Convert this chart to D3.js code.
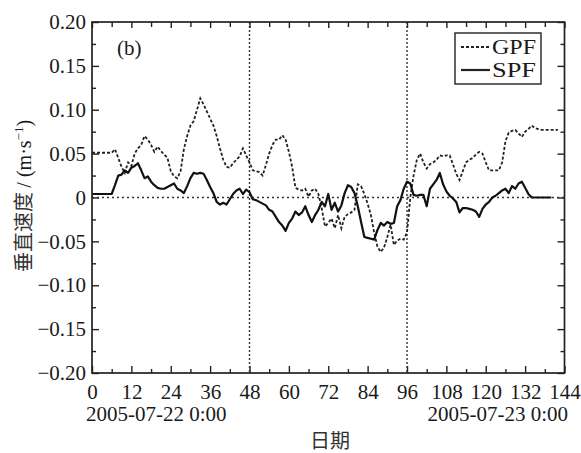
<!DOCTYPE html>
<html>
<head>
<meta charset="utf-8">
<script src="https://cdn.jsdelivr.net/npm/d3@7"></script>
<style>
  body { margin: 0; background: #fff; }
  svg text { font-family: "Liberation Serif", "Times New Roman", serif; fill: #1a1a1a; }
  .cjk { font-family: "Noto Sans CJK SC", sans-serif !important; fill: #333 !important; }
</style>
</head>
<body>
<svg id="chart" width="581" height="453"></svg>
<script>
// hours since 2005-07-22 0:00
var gpfHours = [0,6,7,8,9,10,11,12,13,14,15,16,17,18,19,20,21,22,23,24,25,26,27,28,29,30,31,32,33,34,35,36,37,38,39,40,41,42,43,44,45,46,47,48,49,50,51,52,53,54,55,56,57,58,59,60,61,62,63,64,65,66,67,68,69,70,71,72,73,74,75,76,77,78,79,80,81,82,83,84,85,86,87,88,89,90,91,92,93,94,95,96,97,98,99,100,101,102,103,104,105,106,107,108,109,110,111,112,113,114,115,116,117,118,119,120,121,122,123,124,125,126,127,128,129,130,131,132,133,134,135,136,137,138,140,142];
var gpfValues = [0.051,0.051,0.055,0.045,0.035,0.028,0.040,0.036,0.050,0.056,0.060,0.070,0.066,0.060,0.052,0.058,0.053,0.049,0.045,0.030,0.024,0.022,0.030,0.055,0.070,0.082,0.087,0.100,0.113,0.106,0.098,0.090,0.082,0.070,0.056,0.043,0.035,0.034,0.039,0.043,0.047,0.056,0.048,0.040,0.031,0.030,0.029,0.025,0.037,0.050,0.060,0.066,0.066,0.071,0.066,0.052,0.035,0.011,0.009,0.008,0.010,0.001,0.008,0.010,0.004,-0.012,-0.033,-0.029,-0.024,-0.035,-0.020,-0.035,-0.022,-0.019,-0.017,-0.014,0.015,0.013,0.004,-0.007,-0.020,-0.040,-0.056,-0.062,-0.057,-0.045,-0.031,-0.054,-0.049,-0.047,-0.048,-0.040,0.000,0.025,0.043,0.050,0.040,0.033,0.038,0.040,0.043,0.048,0.047,0.048,0.048,0.038,0.027,0.020,0.030,0.040,0.043,0.045,0.049,0.052,0.050,0.040,0.031,0.031,0.031,0.031,0.040,0.064,0.074,0.076,0.077,0.073,0.069,0.075,0.078,0.082,0.079,0.078,0.077,0.077,0.077,0.077];

var spfHours = [0,6,7,8,9,10,11,12,13,14,15,16,17,18,19,20,21,22,23,24,25,26,27,28,29,30,31,32,33,34,35,36,37,38,39,40,41,42,43,44,45,46,47,48,49,50,51,52,53,54,55,56,57,58,59,60,61,62,63,64,65,66,67,68,69,70,71,72,73,74,75,76,77,78,79,80,81,82,83,84,85,86,87,88,89,90,91,92,93,94,95,96,97,98,99,100,101,102,103,104,105,106,107,108,109,110,111,112,113,114,115,116,117,118,119,120,121,122,123,124,125,126,127,128,129,130,131,132,133,134,137,140];
var spfValues = [0.004,0.004,0.014,0.025,0.026,0.031,0.028,0.034,0.036,0.039,0.031,0.022,0.024,0.018,0.014,0.011,0.010,0.010,0.012,0.014,0.016,0.010,0.008,0.005,0.013,0.022,0.028,0.027,0.028,0.027,0.020,0.012,0.005,-0.005,-0.008,-0.006,-0.008,-0.002,0.004,0.008,0.010,0.004,0.009,0.006,-0.002,-0.003,-0.005,-0.007,-0.009,-0.014,-0.016,-0.022,-0.028,-0.032,-0.038,-0.029,-0.024,-0.016,-0.020,-0.017,-0.010,-0.020,-0.028,-0.020,-0.014,-0.005,-0.010,0.004,-0.014,-0.006,-0.016,-0.009,0.005,0.014,0.012,0.005,-0.010,-0.028,-0.045,-0.046,-0.047,-0.048,-0.037,-0.029,-0.032,-0.028,-0.030,-0.029,-0.010,-0.003,0.010,0.018,0.016,0.003,0.002,0.003,0.003,-0.010,0.010,0.015,0.020,0.028,0.015,0.007,0.002,-0.001,-0.005,-0.017,-0.012,-0.012,-0.013,-0.014,-0.016,-0.022,-0.013,-0.008,-0.005,0.000,0.002,0.005,0.008,0.010,0.005,0.013,0.010,0.016,0.018,0.011,0.004,0.000,0.000,0.000];

var xTicks = [0,12,24,36,48,60,72,84,96,108,120,132,144];
var yTicks = [-0.20,-0.15,-0.10,-0.05,0,0.05,0.10,0.15,0.20];
var markerHours = [48,96];
var seriesNames = ["GPF","SPF"];
var dateLabels = ["2005-07-22 0:00","2005-07-23 0:00"];

var margin = {left: 92, top: 22, right: 16.5, bottom: 80};
var W = 581, H = 453;
var pw = W - margin.left - margin.right, ph = H - margin.top - margin.bottom;

var svg = d3.select("#chart");
var g = svg.append("g").attr("transform", "translate(" + margin.left + "," + margin.top + ")");

var x = d3.scaleLinear().domain([0,144]).range([0,pw]);
var y = d3.scaleLinear().domain([-0.2,0.2]).range([ph,0]);

function fmtY(d){
  if (Math.abs(d) < 1e-9) return "0";
  return (d < 0 ? "\u2212" : "") + Math.abs(d).toFixed(2);
}

// minor ticks
var xMinor = d3.range(6,144,12);
var yMinor = d3.range(-0.175,0.2,0.05);

function styleAxis(sel){
  sel.select(".domain").remove();
  sel.selectAll("line").attr("stroke","#222").attr("stroke-width",1.4);
  sel.selectAll("text").attr("font-size",21).attr("fill","#1a1a1a");
}

g.append("g").attr("transform","translate(0," + ph + ")")
  .call(d3.axisBottom(x).tickValues(xTicks).tickSize(-7).tickPadding(11)).call(styleAxis);
g.append("g").attr("transform","translate(0," + ph + ")")
  .call(d3.axisBottom(x).tickValues(xMinor).tickSize(-4).tickFormat("")).call(styleAxis);
g.append("g").call(d3.axisTop(x).tickValues(xTicks).tickSize(-6).tickFormat("")).call(styleAxis);
g.append("g").call(d3.axisTop(x).tickValues(xMinor).tickSize(-5).tickFormat("")).call(styleAxis);

g.append("g").call(d3.axisLeft(y).tickValues(yTicks).tickSize(-7).tickPadding(6).tickFormat(fmtY)).call(styleAxis);
g.append("g").call(d3.axisLeft(y).tickValues(yMinor).tickSize(-4).tickFormat("")).call(styleAxis);
g.append("g").attr("transform","translate(" + pw + ",0)")
  .call(d3.axisRight(y).tickValues(yTicks).tickSize(-7).tickFormat("")).call(styleAxis);
g.append("g").attr("transform","translate(" + pw + ",0)")
  .call(d3.axisRight(y).tickValues(yMinor).tickSize(-4).tickFormat("")).call(styleAxis);

// zero line and marker lines
g.append("line").attr("x1",0).attr("x2",pw).attr("y1",y(0)).attr("y2",y(0))
  .attr("stroke","#333").attr("stroke-width",1.4).attr("stroke-dasharray","2,3");
g.selectAll(".marker").data(markerHours).enter().append("line")
  .attr("x1",function(d){return x(d);}).attr("x2",function(d){return x(d);})
  .attr("y1",0).attr("y2",ph)
  .attr("stroke","#333").attr("stroke-width",1.4).attr("stroke-dasharray","2,2");

var line = d3.line().x(function(d){return x(d[0]);}).y(function(d){return y(d[1]);});

var gpf = d3.zip(gpfHours, gpfValues);
var spf = d3.zip(spfHours, spfValues);

g.append("path").datum(gpf).attr("d",line).attr("fill","none")
  .attr("stroke","#222").attr("stroke-width",1.8).attr("stroke-dasharray","3,2");
g.append("path").datum(spf).attr("d",line).attr("fill","none")
  .attr("stroke","#111").attr("stroke-width",2.2).attr("stroke-linejoin","round");

// frame
g.append("rect").attr("width",pw).attr("height",ph).attr("fill","none")
  .attr("stroke","#222").attr("stroke-width",1.7);

// panel label
g.append("text").attr("x",25).attr("y",33).attr("font-size",21).text("(b)");

// legend
var lg = svg.append("g").attr("transform","translate(455,33)");
lg.append("rect").attr("width",86).attr("height",51).attr("fill","#fff")
  .attr("stroke","#222").attr("stroke-width",1.4);
seriesNames.forEach(function(name,i){
  var yy = 14 + i*23;
  lg.append("line").attr("x1",6).attr("x2",35).attr("y1",yy).attr("y2",yy)
    .attr("stroke","#222").attr("stroke-width", i ? 2.2 : 1.8)
    .attr("stroke-dasharray", i ? null : "3,2");
  lg.append("text").attr("x",37).attr("y",yy+7).attr("font-size",20)
    .attr("textLength",44).attr("lengthAdjust","spacingAndGlyphs").text(name);
});

// date labels under the axis
svg.append("text").attr("x",86).attr("y",421).attr("font-size",21).text(dateLabels[0]);
svg.append("text").attr("x",568).attr("y",421).attr("font-size",21)
  .attr("text-anchor","end").text(dateLabels[1]);

// axis titles
svg.append("text").attr("class","cjk").attr("x",330).attr("y",448)
  .attr("font-size",20).attr("text-anchor","middle").text("日期");

var yt = svg.append("text").attr("transform","translate(31,196) rotate(-90)")
  .attr("text-anchor","middle").attr("font-size",20);
yt.append("tspan").attr("class","cjk").text("垂直速度 ");
yt.append("tspan").text("/ (m·s");
yt.append("tspan").attr("font-size",13).attr("dy",-8).text("\u22121");
yt.append("tspan").attr("dy",8).text(")");
</script>
</body>
</html>
